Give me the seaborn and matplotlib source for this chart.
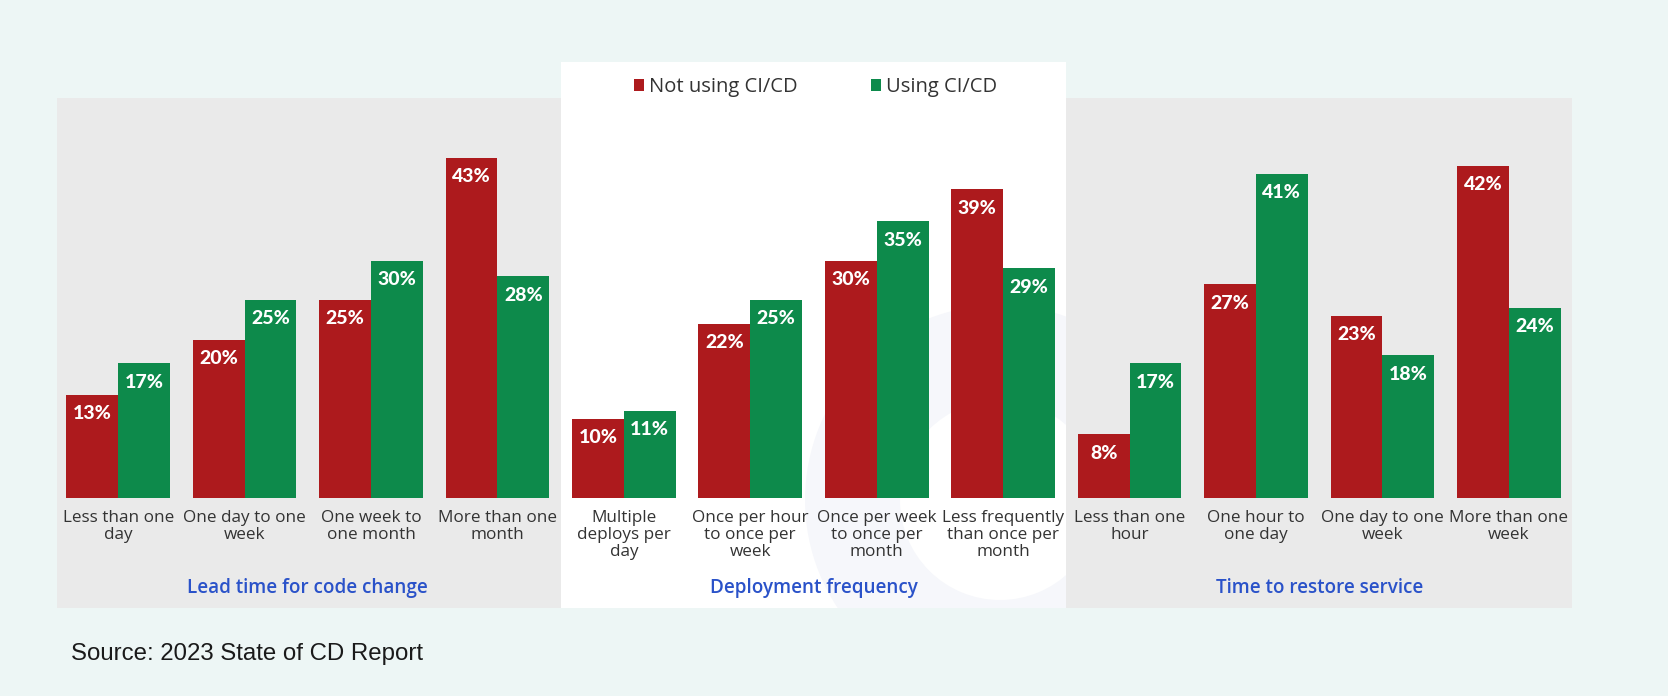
import matplotlib
matplotlib.use("Agg")
import matplotlib.pyplot as plt
from matplotlib.patches import Rectangle, Patch, Wedge
import seaborn as sns
import pandas as pd

# ---------------- data ----------------
panels = ["Lead time for code change", "Deployment frequency", "Time to restore service"]
categories = [
    "Less than one\nday", "One day to one\nweek", "One week to\none month", "More than one\nmonth",
    "Multiple\ndeploys per\nday", "Once per hour\nto once per\nweek", "Once per week\nto once per\nmonth",
    "Less frequently\nthan once per\nmonth",
    "Less than one\nhour", "One hour to\none day", "One day to one\nweek", "More than one\nweek",
]
panel_of = [0, 0, 0, 0, 1, 1, 1, 1, 2, 2, 2, 2]
series = ["Not using CI/CD", "Using CI/CD"]
not_using = [13, 20, 25, 43, 10, 22, 30, 39, 8, 27, 23, 42]
using = [17, 25, 30, 28, 11, 25, 35, 29, 17, 41, 18, 24]
source_text = "Source: 2023 State of CD Report"

RED = "#AD1A1D"
GREEN = "#0D8A4B"
BG = "#EDF6F5"
GRAY = "#EAEAEA"
BLUE = "#2A52C9"
TXT = "#333333"

keys = [f"{i:02d}" for i in range(len(categories))]
df = pd.DataFrame({
    "key": keys * 2,
    "value": not_using + using,
    "series": [series[0]] * len(keys) + [series[1]] * len(keys),
})

sns.set_theme(style="white")
plt.rcParams["font.family"] = ["Open Sans", "DejaVu Sans"]

W, H = 1668, 696
fig = plt.figure(figsize=(W / 100, H / 100), dpi=100, facecolor=BG)

left_px, right_px, top_px, bot_px = 55, 1572, 62, 608
ax = fig.add_axes([left_px / W, 1 - bot_px / H, (right_px - left_px) / W, (bot_px - top_px) / H])
ax.set_facecolor("none")

base_px = 497.5
px_per_unit = 7.9
ymin = -(bot_px - base_px) / px_per_unit
ymax = (base_px - top_px) / px_per_unit
gray_top = (base_px - 98) / px_per_unit
xl, xr = -0.483, 11.528
ax.set_xlim(xl, xr)
ax.set_ylim(ymin, ymax)

# panel backgrounds
bounds = [(xl, 3.5), (3.5, 7.5), (7.5, xr)]
ax.add_patch(Rectangle((bounds[0][0], ymin), bounds[0][1] - bounds[0][0], gray_top - ymin,
                       facecolor=GRAY, edgecolor="none", zorder=0))
white_rect = Rectangle((bounds[1][0], ymin), bounds[1][1] - bounds[1][0], ymax - ymin,
                       facecolor="white", edgecolor="none", zorder=0)
ax.add_patch(white_rect)
ax.add_patch(Rectangle((bounds[2][0], ymin), bounds[2][1] - bounds[2][0], gray_top - ymin,
                       facecolor=GRAY, edgecolor="none", zorder=0))

# faint ring watermark in the middle panel
ring = Wedge((1000 / 100, (H - 500) / 100), 1.95, 0, 360, width=0.95,
             transform=fig.dpi_scale_trans, facecolor="#F6F7FB", edgecolor="none", zorder=0.5)
ax.add_patch(ring)
ring.set_clip_path(white_rect)

sns.barplot(data=df, x="key", y="value", hue="series", order=keys, hue_order=series,
            palette=[RED, GREEN], width=0.82, gap=0, saturation=1, ax=ax,
            edgecolor="none", linewidth=0, legend=False, zorder=2)

# value labels inside the bar tops
for cont, vals in zip(ax.containers, [not_using, using]):
    for bar, v in zip(cont, vals):
        ax.annotate(f"{v}%", (bar.get_x() + bar.get_width() / 2, bar.get_height()),
                    xytext=(0, -19), textcoords="offset pixels", ha="center", va="center",
                    color="white", fontsize=14, fontweight="black", family=["Lato", "DejaVu Sans"],
                    zorder=3)

# category labels
ax.spines["bottom"].set_position(("data", 0))
for s in ax.spines.values():
    s.set_visible(False)
ax.set_xticks(range(len(categories)))
ax.set_xticklabels(categories, fontsize=12.3, color=TXT, linespacing=1.08, fontweight="medium")
ax.tick_params(axis="x", length=0, pad=9)
ax.set_yticks([])
ax.set_xlabel("")
ax.set_ylabel("")

# panel titles
ytitle = -(588 - base_px) / px_per_unit
for p, name in enumerate(panels):
    idx = [i for i, q in enumerate(panel_of) if q == p]
    xc = (idx[0] + idx[-1]) / 2
    ax.text(xc, ytitle, name, ha="center", va="center", color=BLUE, fontsize=13.6, fontweight="semibold")

# legend
handles = [Patch(facecolor=RED, edgecolor="none"), Patch(facecolor=GREEN, edgecolor="none")]
fig.legend(handles, series, loc="center", bbox_to_anchor=(815.5 / W, 1 - 87 / H), ncol=2,
           frameon=False, fontsize=14.5, handlelength=0.5, handleheight=0.5,
           handletextpad=0.25, columnspacing=3.6, labelcolor=TXT)

# source
fig.text(71 / W, 1 - 654 / H, source_text, ha="left", va="center", fontsize=17.3,
         color="#1a1a1a", family=["Liberation Sans", "DejaVu Sans"])

fig.savefig("out.png", dpi=100, facecolor=BG)
